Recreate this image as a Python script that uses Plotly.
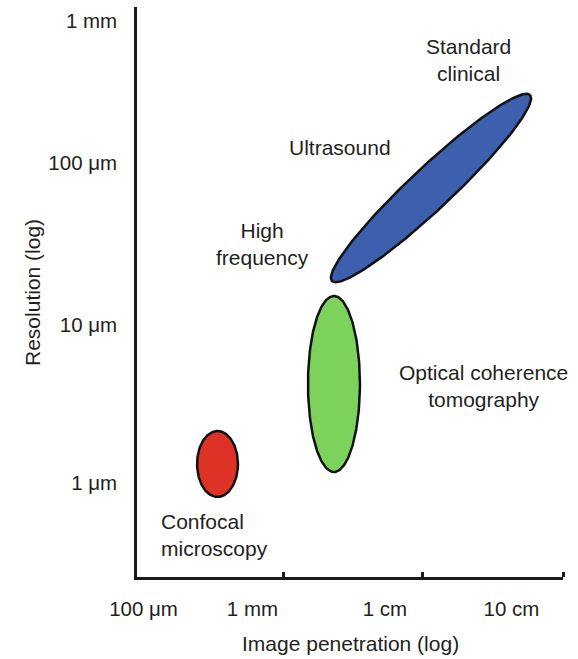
import numpy as np
import plotly.graph_objects as go

# ---------------- data (log-decade coordinates) ----------------
# x: image penetration, in decades from the left edge of the axis
x_tick_labels = ["100 μm", "1 mm", "1 cm", "10 cm"]
x_tick_pos = [0.046, 0.813, 1.746, 2.637]
x_minor_ticks = [1.035, 2.014, 3.0]
x_range = [0, 3]

# y: resolution, log10(µm)
y_tick_labels = ["1 mm", "100 μm", "10 μm", "1 μm"]
y_tick_pos = [2.894, 2.006, 0.994, 0.006]
y_range = [-0.58125, 2.98125]

# regions: name, centre x, centre y, half-width x, half-height y, color
region_names = ["Confocal microscopy", "Optical coherence tomography"]
region_cx = [0.567, 1.387]
region_cy = [0.125, 0.625]
region_rx = [0.144, 0.183]
region_ry = [0.206, 0.55]
region_colors = ["#de3226", "#7dd25b"]

# ultrasound: tilted ellipse defined by its major-axis tips and minor/major ratio
us_tip1 = (1.373, 1.269)
us_tip2 = (2.768, 2.431)
us_ratio = 0.155
us_color = "#3c5fae"

# labels
label_texts = ["Standard<br>clinical", "Ultrasound", "High<br>frequency",
               "Optical coherence<br>tomography", "Confocal<br>microscopy"]
label_x = [2.331, 1.43, 0.887, 2.437, 0.155]
label_y = [2.65, 2.106, 1.5, 0.6125, -0.319]
label_align = ["center", "center", "center", "center", "left"]

# ---------------- figure ----------------
W, H = 578, 659
ML, MR, MT, MB = 137, 15, 7, 82
px_u = (W - ML - MR) / (x_range[1] - x_range[0])
px_v = (H - MT - MB) / (y_range[1] - y_range[0])

FONT = "Liberation Sans, Arial, Helvetica, sans-serif"
fig = go.Figure()

t = np.linspace(0, 2 * np.pi, 240)
for name, cx, cy, rx, ry, col in zip(region_names, region_cx, region_cy,
                                     region_rx, region_ry, region_colors):
    fig.add_trace(go.Scatter(x=cx + rx * np.cos(t), y=cy + ry * np.sin(t),
                             mode="lines", fill="toself", fillcolor=col,
                             line=dict(color="#111111", width=2.5),
                             name=name, hoverinfo="skip"))

# tilted ellipse: compute in screen-proportional space, convert back
cx = (us_tip1[0] + us_tip2[0]) / 2
cy = (us_tip1[1] + us_tip2[1]) / 2
ax_px = (us_tip2[0] - cx) * px_u
ay_px = (us_tip2[1] - cy) * px_v
a_len = np.hypot(ax_px, ay_px)
b_len = a_len * us_ratio
bx_px = -ay_px / a_len * b_len
by_px = ax_px / a_len * b_len
ux = cx + (ax_px * np.cos(t) + bx_px * np.sin(t)) / px_u
uy = cy + (ay_px * np.cos(t) + by_px * np.sin(t)) / px_v
fig.add_trace(go.Scatter(x=ux, y=uy, mode="lines", fill="toself",
                         fillcolor=us_color,
                         line=dict(color="#111111", width=2.5),
                         name="Ultrasound", hoverinfo="skip"))

for txt, lx, ly, al in zip(label_texts, label_x, label_y, label_align):
    fig.add_annotation(x=lx, y=ly, text=txt, showarrow=False, align=al,
                       xanchor="left" if al == "left" else "center",
                       yanchor="middle",
                       font=dict(family=FONT, size=21, color="#231f20"))

# axis titles
fig.add_annotation(xref="paper", yref="paper", x=0.5, y=-0.1175,
                   text="Image penetration (log)", showarrow=False,
                   xanchor="center", yanchor="middle",
                   font=dict(family=FONT, size=21, color="#231f20"))
fig.add_annotation(xref="paper", yref="paper", x=-0.2465, y=0.5,
                   text="Resolution (log)", showarrow=False, textangle=-90,
                   xanchor="center", yanchor="middle",
                   font=dict(family=FONT, size=21, color="#231f20"))

fig.update_layout(
    width=W, height=H,
    margin=dict(l=ML, r=MR, t=MT, b=MB),
    paper_bgcolor="white", plot_bgcolor="white",
    showlegend=False,
    xaxis=dict(range=x_range, showgrid=False, zeroline=False,
               showline=True, linecolor="#1a1a1a", linewidth=2.5,
               tickmode="array", tickvals=x_tick_pos, ticktext=x_tick_labels,
               ticks="", ticklabelstandoff=12,
               tickfont=dict(family=FONT, size=20.5, color="#231f20"),
               minor=dict(tickmode="array", tickvals=x_minor_ticks,
                          ticks="inside", ticklen=5, tickwidth=2.5,
                          tickcolor="#1a1a1a", showgrid=False),
               fixedrange=True),
    yaxis=dict(range=y_range, showgrid=False, zeroline=False,
               showline=True, linecolor="#1a1a1a", linewidth=2.5,
               tickmode="array", tickvals=y_tick_pos, ticktext=y_tick_labels,
               ticks="", ticklabelstandoff=13,
               tickfont=dict(family=FONT, size=20.5, color="#231f20"),
               fixedrange=True),
)

fig.write_html("out.html")
